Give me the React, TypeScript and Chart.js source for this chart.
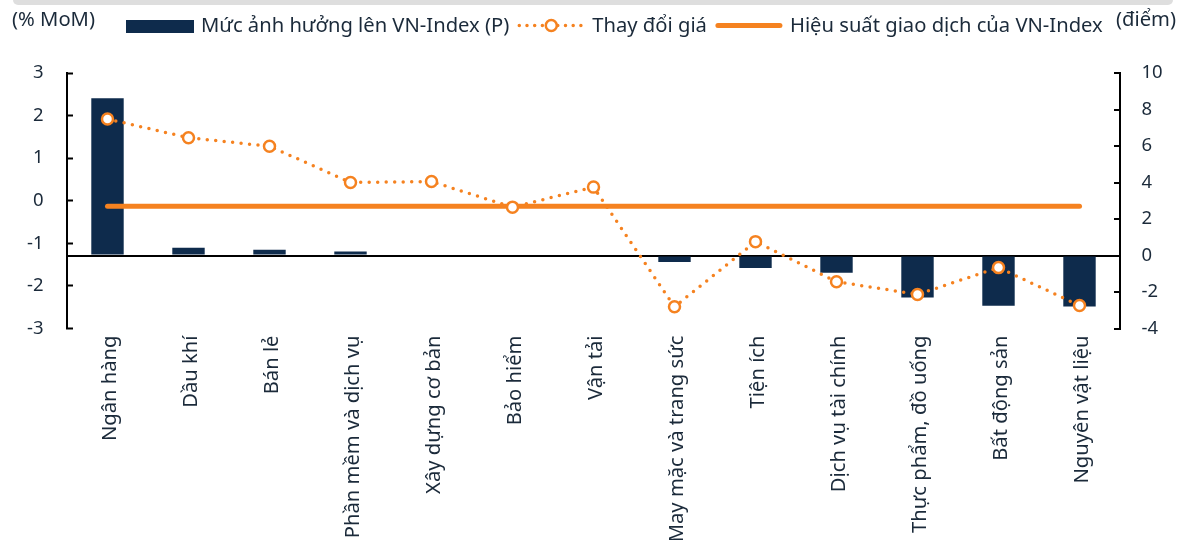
import React, { useEffect, useRef } from 'react';
import { Chart, registerables } from 'chart.js';

Chart.register(...registerables);

// ---- Data ----
const categories = [
  'Ngân hàng',
  'Dầu khí',
  'Bán lẻ',
  'Phần mềm và dịch vụ',
  'Xây dựng cơ bản',
  'Bảo hiểm',
  'Vận tải',
  'May mặc và trang sức',
  'Tiện ích',
  'Dịch vụ tài chính',
  'Thực phẩm, đồ uống',
  'Bất động sản',
  'Nguyên vật liệu',
];

// Mức ảnh hưởng lên VN-Index (điểm) — right axis
const impactPoints = [8.62, 0.42, 0.31, 0.22, 0, 0, 0, -0.36, -0.69, -0.95, -2.3, -2.75, -2.8];

// Thay đổi giá (% MoM) — left axis
const priceChange = [1.92, 1.48, 1.28, 0.43, 0.45, -0.15, 0.32, -2.49, -0.96, -1.9, -2.2, -1.57, -2.46];

// Hiệu suất giao dịch của VN-Index (% MoM) — left axis
const vnIndexPerf = [-0.13, -0.13, -0.13, -0.13, -0.13, -0.13, -0.13, -0.13, -0.13, -0.13, -0.13, -0.13, -0.13];

const seriesLabels = [
  'Mức ảnh hưởng lên VN-Index (P)',
  'Thay đổi giá',
  'Hiệu suất giao dịch của VN-Index',
];
const leftAxisUnit = '(% MoM)';
const rightAxisUnit = '(điểm)';

// ---- Styles ----
const NAVY = '#0e2b4c';
const ORANGE = '#f58220';
const TEXT = '#1b2a3a';
const FONT = "'Noto Sans', 'Open Sans', sans-serif";

const legendPlugin = {
  id: 'topLegend',
  afterDraw(chart: any) {
    const ctx = chart.ctx as CanvasRenderingContext2D;
    const ds = chart.data.datasets as any[];
    ctx.save();
    ctx.font = `20.2px ${FONT}`;
    ctx.fillStyle = TEXT;
    ctx.textBaseline = 'alphabetic';
    ctx.textAlign = 'left';
    ctx.fillText(leftAxisUnit, 12, 26);
    ctx.textAlign = 'right';
    ctx.fillText(rightAxisUnit, 1176, 26);
    ctx.textAlign = 'left';

    let x = 126;
    const symW = 68;
    const midY = 25.5;
    ds.forEach((d) => {
      if (d.type === 'bar') {
        ctx.fillStyle = d.backgroundColor;
        ctx.fillRect(x, 20, symW, 13);
      } else if (d.borderDash && d.borderDash.length) {
        ctx.strokeStyle = d.borderColor;
        ctx.lineWidth = d.borderWidth;
        ctx.lineCap = 'round';
        ctx.setLineDash([0, 7.7]);
        ctx.beginPath();
        ctx.moveTo(x + 2, midY);
        ctx.lineTo(x + symW, midY);
        ctx.stroke();
        ctx.setLineDash([]);
        ctx.beginPath();
        ctx.arc(x + symW / 2, midY, d.pointRadius, 0, Math.PI * 2);
        ctx.fillStyle = d.pointBackgroundColor;
        ctx.fill();
        ctx.lineWidth = d.pointBorderWidth;
        ctx.strokeStyle = d.pointBorderColor;
        ctx.stroke();
      } else {
        ctx.strokeStyle = d.borderColor;
        ctx.lineWidth = d.borderWidth;
        ctx.lineCap = 'round';
        ctx.beginPath();
        ctx.moveTo(x + 3, midY);
        ctx.lineTo(x + symW - 3, midY);
        ctx.stroke();
      }
      ctx.fillStyle = TEXT;
      ctx.fillText(d.label, x + symW + 7, 32);
      x += symW + 7 + ctx.measureText(d.label).width + 8;
    });
    ctx.restore();
  },
};

export default function App() {
  const canvasRef = useRef<HTMLCanvasElement | null>(null);

  useEffect(() => {
    if (!canvasRef.current) return;
    Chart.defaults.font.family = FONT;
    Chart.defaults.color = TEXT;

    const chart = new Chart(canvasRef.current, {
      type: 'bar',
      data: {
        labels: categories,
        datasets: [
          {
            type: 'bar',
            label: seriesLabels[0],
            data: impactPoints,
            backgroundColor: NAVY,
            yAxisID: 'y1',
            order: 3,
            categoryPercentage: 1,
            barPercentage: 0.4,
          } as any,
          {
            type: 'line',
            label: seriesLabels[1],
            data: priceChange,
            yAxisID: 'y',
            borderColor: ORANGE,
            borderWidth: 3.5,
            borderDash: [0, 8.5],
            borderCapStyle: 'round',
            tension: 0,
            pointRadius: 5.5,
            pointBorderWidth: 2.5,
            pointBackgroundColor: '#ffffff',
            pointBorderColor: ORANGE,
            order: 1,
          } as any,
          {
            type: 'line',
            label: seriesLabels[2],
            data: vnIndexPerf,
            yAxisID: 'y',
            borderColor: ORANGE,
            borderWidth: 5,
            borderCapStyle: 'round',
            pointRadius: 0,
            tension: 0,
            order: 2,
          } as any,
        ],
      },
      options: {
        responsive: false,
        animation: false,
        devicePixelRatio: 1,
        layout: { padding: { top: 73, left: 0, right: 0, bottom: 0 } },
        plugins: {
          legend: { display: false },
          tooltip: { enabled: false },
        },
        scales: {
          x: {
            type: 'category',
            offset: true,
            grid: { display: false, drawTicks: false },
            border: { display: false },
            ticks: {
              autoSkip: false,
              maxRotation: 90,
              minRotation: 90,
              padding: 7,
              labelOffset: 3,
              color: TEXT,
              font: { size: 20.2, family: FONT },
            },
            afterFit: (s: any) => {
              s.height = 211.5;
            },
          },
          y: {
            position: 'left',
            min: -3,
            max: 3,
            ticks: { stepSize: 1, padding: 29.5, color: TEXT, font: { size: 18.5, family: FONT } },
            grid: {
              drawOnChartArea: false,
              drawTicks: true,
              tickLength: -6,
              tickColor: '#000',
              tickWidth: 2,
            },
            border: { display: true, color: '#000', width: 2 },
            afterFit: (s: any) => {
              s.width = 67;
            },
          },
          y1: {
            position: 'right',
            min: -4,
            max: 10,
            ticks: { stepSize: 2, padding: 27.5, color: TEXT, font: { size: 18.5, family: FONT } },
            grid: {
              drawOnChartArea: true,
              color: (c: any) => (c.tick && c.tick.value === 0 ? '#000' : 'rgba(0,0,0,0)'),
              lineWidth: 2,
              drawTicks: true,
              tickLength: -6,
              tickColor: '#000',
              tickWidth: 2,
            },
            border: { display: true, color: '#000', width: 2 },
            afterFit: (s: any) => {
              s.width = 58;
            },
          },
        },
      } as any,
      plugins: [legendPlugin],
    });

    return () => chart.destroy();
  }, []);

  return (
    <div
      style={{
        position: 'absolute',
        left: 0,
        top: 0,
        width: 1178,
        height: 540,
        background: '#ffffff',
        overflow: 'hidden',
      }}
    >
      <div
        style={{
          position: 'absolute',
          left: 13,
          top: 0,
          width: 1160,
          height: 5,
          background: '#dedede',
          borderBottomLeftRadius: 6,
          borderBottomRightRadius: 6,
        }}
      />
      <canvas
        ref={canvasRef}
        width={1178}
        height={540}
        style={{ position: 'absolute', left: 0, top: 0, display: 'block' }}
      />
    </div>
  );
}
